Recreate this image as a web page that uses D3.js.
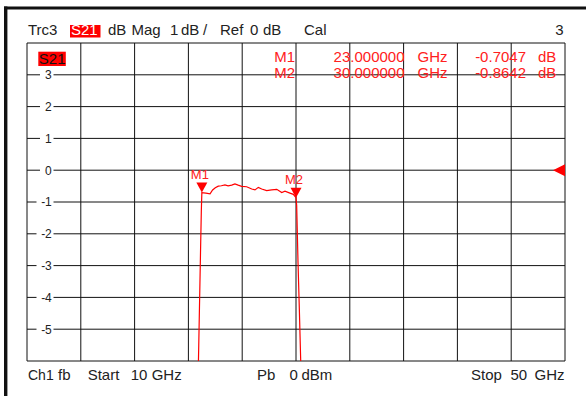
<!DOCTYPE html>
<html>
<head>
<meta charset="utf-8">
<script src="https://cdn.jsdelivr.net/npm/d3@7/dist/d3.min.js"></script>
<style>
  html, body { margin: 0; padding: 0; background: #fff; }
  svg { display: block; font-family: "Liberation Sans", Arial, sans-serif; }
</style>
</head>
<body>
<svg id="vna" width="586" height="396"></svg>
<script>
// Sweep: transmission S21 of a band-pass filter, 10–50 GHz
const freqGHz = [22.70, 22.77, 22.90, 22.96, 23.00, 23.30, 23.61, 23.80, 24.00, 24.22,
                 24.45, 24.72, 24.95, 25.22, 25.46, 25.70, 25.96, 26.33, 26.71, 26.95,
                 27.20, 27.45, 27.82, 28.19, 28.57, 28.94, 29.18, 29.55, 29.80, 30.00,
                 30.05, 30.15, 30.25, 30.35, 30.40];
const s21dB   = [-7.0, -5.5, -2.6, -1.3, -0.7047, -0.72, -0.74, -0.62, -0.55, -0.50,
                 -0.49, -0.46, -0.49, -0.47, -0.43, -0.47, -0.51, -0.52, -0.59, -0.62,
                 -0.54, -0.59, -0.64, -0.62, -0.60, -0.70, -0.66, -0.72, -0.76, -0.8642,
                 -1.1, -2.9, -4.4, -6.0, -7.0];

// Markers
const markerNames = ["M1", "M2"];
const markerFreq  = [23.0, 30.0];
const markerVal   = [-0.7047, -0.8642];

// Axis settings
const freqStart = 10, freqStop = 50, freqDiv = 4;
const dbTop = 4, dbBottom = -6, dbRef = 0;
const dbTickLabels = [3, 2, 1, 0, -1, -2, -3, -4, -5];

const svg = d3.select("#vna");
const plot = { left: 27, right: 565, top: 43, bottom: 361 };

const x = d3.scaleLinear().domain([freqStart, freqStop]).range([plot.left, plot.right]);
const y = d3.scaleLinear().domain([dbBottom, dbTop]).range([plot.bottom, plot.top]);

// Window frame
svg.append("rect").attr("x", 4).attr("y", 6.5).attr("width", 582).attr("height", 3).attr("fill", "#111");
svg.append("rect").attr("x", 4).attr("y", 6.5).attr("width", 3.4).attr("height", 390).attr("fill", "#111");

// Grid
const grid = svg.append("g").attr("stroke", "#111").attr("stroke-width", 1);
grid.selectAll("line.v")
  .data(d3.range(freqStart, freqStop + 0.001, freqDiv))
  .join("line")
  .attr("x1", d => x(d)).attr("x2", d => x(d))
  .attr("y1", plot.top).attr("y2", plot.bottom);
grid.selectAll("line.h")
  .data(d3.range(dbBottom, dbTop + 0.001, 1))
  .join("line")
  .attr("x1", plot.left).attr("x2", plot.right)
  .attr("y1", d => y(d)).attr("y2", d => y(d));

// Division labels on the grid
const lab = svg.append("g").attr("font-size", 12).attr("fill", "#222");
lab.selectAll("rect")
  .data(dbTickLabels)
  .join("rect")
  .attr("x", d => d < 0 ? 36.5 : 40)
  .attr("width", d => d < 0 ? 17 : 13.5)
  .attr("y", d => y(d) - 6)
  .attr("height", 12)
  .attr("fill", "#fff");
lab.selectAll("text")
  .data(dbTickLabels)
  .join("text")
  .attr("x", 51.8)
  .attr("y", d => y(d) + 4.3)
  .attr("text-anchor", "end")
  .text(d => d);

// Trace
svg.append("clipPath").attr("id", "plotClip")
  .append("rect")
  .attr("x", plot.left).attr("y", plot.top)
  .attr("width", plot.right - plot.left).attr("height", plot.bottom - plot.top);

const line = d3.line().x(d => x(d[0])).y(d => y(d[1]));
svg.append("path")
  .attr("clip-path", "url(#plotClip)")
  .attr("d", line(d3.zip(freqGHz, s21dB)))
  .attr("fill", "none")
  .attr("stroke", "#ff0000")
  .attr("stroke-width", 1.2);

// Marker triangles and names
const mk = svg.append("g");
markerNames.forEach((name, i) => {
  const mx = x(markerFreq[i]), my = y(markerVal[i]);
  mk.append("path")
    .attr("d", `M${mx},${my} L${mx - 5.5},${my - 10} L${mx + 5.5},${my - 10} Z`)
    .attr("fill", "#ff0000");
  mk.append("text")
    .attr("x", mx - 2).attr("y", my - 14)
    .attr("text-anchor", "middle")
    .attr("font-size", 13)
    .attr("fill", "#ff2020")
    .text(name);
});

// Reference level arrow at the right edge
const ry = y(dbRef);
svg.append("path")
  .attr("d", `M${plot.right},${ry - 6} L${plot.right},${ry + 6} L${plot.right - 12},${ry} Z`)
  .attr("fill", "#ff0000");

// Text helper: [text, x, anchor, size]
function words(g, list, yy, size, color) {
  list.forEach(([t, xx, anchor, sz]) => {
    g.append("text")
      .attr("x", xx).attr("y", yy)
      .attr("font-size", sz || size)
      .attr("fill", color)
      .attr("text-anchor", anchor || "start")
      .text(t);
  });
}

// Header line
const head = svg.append("g");
head.append("rect").attr("x", 70).attr("y", 25).attr("width", 30.5).attr("height", 12.5).attr("fill", "#ff0000");
words(head, [["Trc3", 28], ["dB", 108], ["Mag", 131.5], ["1", 170], ["dB", 181], ["/", 203],
             ["Ref", 220], ["0", 250], ["dB", 263], ["Cal", 304], ["3", 563.5, "end"]], 35, 15, "#222");
words(head, [["S21", 71]], 35, 15, "#fff");

// Trace label inside the grid
svg.append("rect").attr("x", 38.3).attr("y", 51.7).attr("width", 27.5).attr("height", 14.3).attr("fill", "#ff0000");
words(svg, [["S21", 38.8]], 63.8, 15, "#111");

// Marker readout table
const tbl = svg.append("g");
markerNames.forEach((name, i) => {
  const by = 62 + i * 16;
  words(tbl, [[name, 274.3],
              [markerFreq[i].toFixed(6), 404.5, "end"],
              ["GHz", 417.5],
              [markerVal[i].toFixed(4), 526, "end"],
              ["dB", 538]], by, 15, "#ff2020");
});

// Footer line
const foot = svg.append("g");
words(foot, [["Ch1", 28, null, 14], ["fb", 58], ["Start", 87.7], ["10", 130.7], ["GHz", 151.7],
             ["Pb", 257], ["0", 289.5], ["dBm", 301.5],
             ["Stop", 471], ["50", 510.5], ["GHz", 564.5, "end"]], 380, 15, "#222");
</script>
</body>
</html>
